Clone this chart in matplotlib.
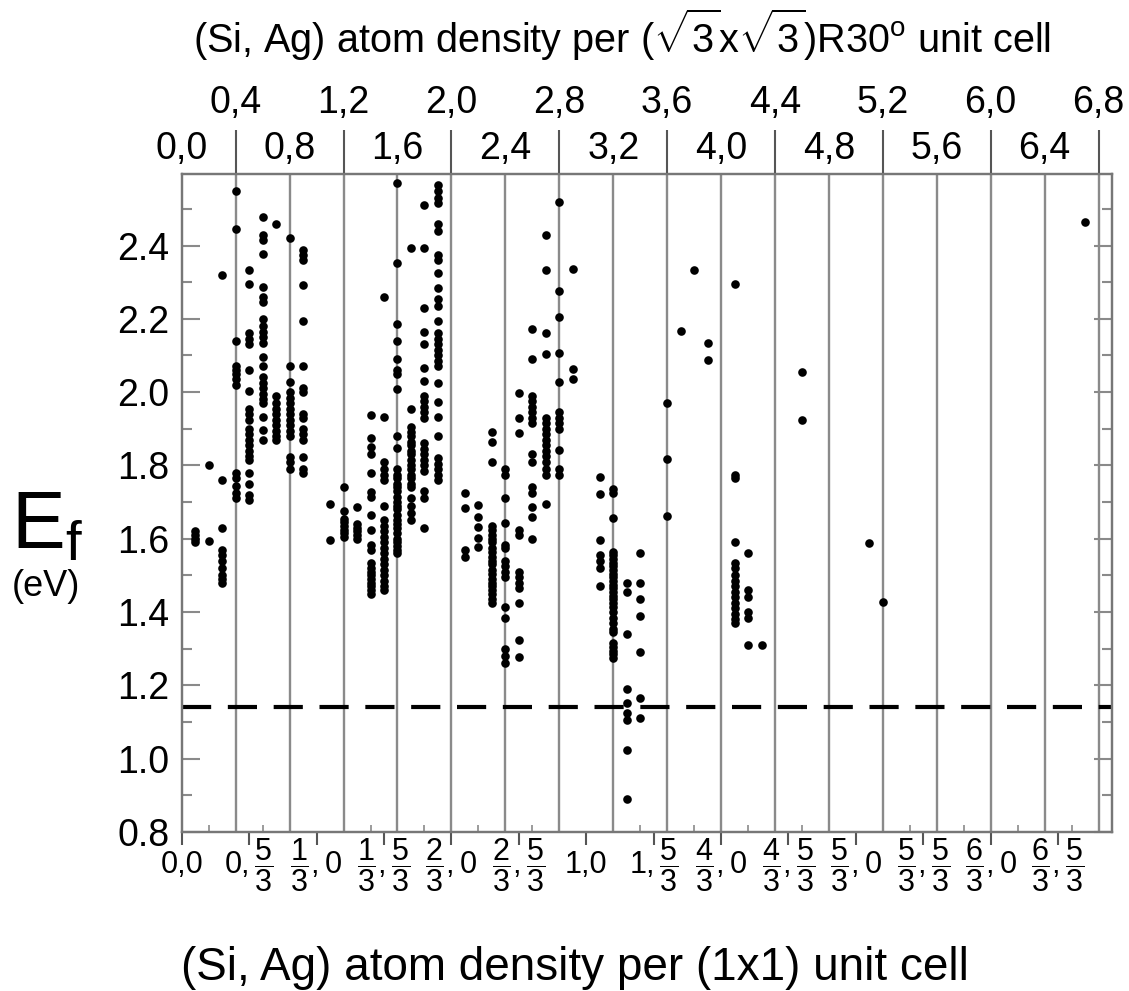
import numpy as np
import matplotlib
matplotlib.use("Agg")
import matplotlib.pyplot as plt
from matplotlib.ticker import MultipleLocator

plt.rcParams['font.family'] = ['Liberation Sans', 'DejaVu Sans']
plt.rcParams['mathtext.fontset'] = 'custom'
plt.rcParams['mathtext.rm'] = 'Liberation Sans'
plt.rcParams['mathtext.it'] = 'Liberation Sans'
plt.rcParams['mathtext.bf'] = 'Liberation Sans'

# Formation energies E_f (eV), one list per density column
# (x = atom density per (sqrt3 x sqrt3)R30 cell)
ef_0_1 = [1.62, 1.61, 1.60, 1.59]
ef_0_2 = [1.80, 1.595]
ef_0_3 = [2.32, 1.76, 1.63, 1.57, 1.555, 1.54, 1.52, 1.50, 1.49, 1.48]
ef_0_4 = [2.55, 2.445, 2.14, 2.07, 2.06, 2.05, 2.035, 2.02, 1.78, 1.765, 1.745, 1.725, 1.71]
ef_0_5 = [2.333, 2.294, 2.16, 2.145, 2.13, 2.06, 2.003, 1.955, 1.94, 1.925, 1.90, 1.885,
          1.87, 1.855, 1.84, 1.825, 1.815, 1.78, 1.75, 1.72, 1.705]
ef_0_6 = [2.479, 2.43, 2.415, 2.377, 2.288, 2.26, 2.245, 2.20, 2.18, 2.165, 2.15, 2.135,
          2.096, 2.07, 2.04, 2.025, 2.01, 1.995, 1.98, 1.97, 1.932, 1.897, 1.87]
ef_0_7 = [2.46, 1.99, 1.97, 1.955, 1.94, 1.925, 1.91, 1.895, 1.88, 1.87]
ef_0_8 = [2.42, 2.07, 2.028, 2.0, 1.985, 1.97, 1.955, 1.94, 1.925, 1.91, 1.895, 1.88,
          1.823, 1.81, 1.79]
ef_0_9 = [2.388, 2.375, 2.36, 2.292, 2.195, 2.07, 2.01, 2.0, 1.94, 1.93, 1.90, 1.885,
          1.87, 1.823, 1.79, 1.78]
ef_1_1 = [1.695, 1.597]
ef_1_2 = [1.74, 1.675, 1.655, 1.645, 1.635, 1.625, 1.615, 1.605]
ef_1_3 = [1.686, 1.64, 1.63, 1.62, 1.61, 1.60]
ef_1_4 = [1.938, 1.875, 1.85, 1.83, 1.78, 1.727, 1.713, 1.665, 1.624, 1.583, 1.57,
          1.535, 1.52, 1.51, 1.50, 1.49, 1.48, 1.47, 1.46, 1.45]
ef_1_5 = [2.26, 1.932, 1.81, 1.79, 1.775, 1.76, 1.69, 1.65, 1.635, 1.62, 1.605, 1.59,
          1.575, 1.56, 1.545, 1.53, 1.515, 1.50, 1.485, 1.47, 1.46]
ef_1_6 = [2.57, 2.352, 2.186, 2.14, 2.09, 2.06, 2.05, 2.008, 1.88, 1.847, 1.79, 1.775,
          1.765, 1.75, 1.74, 1.73, 1.715, 1.70, 1.69, 1.68, 1.665, 1.65, 1.64, 1.63,
          1.615, 1.60, 1.59, 1.58, 1.57, 1.56]
ef_1_7 = [2.393, 1.954, 1.905, 1.89, 1.88, 1.865, 1.855, 1.84, 1.83, 1.815, 1.80, 1.79,
          1.775, 1.765, 1.75, 1.74, 1.71, 1.69, 1.67, 1.65]
ef_1_8 = [2.51, 2.394, 2.23, 2.164, 2.131, 2.066, 2.03, 1.99, 1.975, 1.96, 1.945, 1.93,
          1.86, 1.845, 1.83, 1.815, 1.80, 1.785, 1.73, 1.71, 1.63]
ef_1_9 = [2.565, 2.55, 2.53, 2.515, 2.46, 2.44, 2.375, 2.36, 2.325, 2.283, 2.255, 2.235,
          2.194, 2.16, 2.145, 2.13, 2.115, 2.10, 2.085, 2.07, 2.025, 1.973, 1.932,
          1.88, 1.82, 1.805, 1.79, 1.775, 1.76]
ef_2_1 = [1.725, 1.684, 1.569, 1.55]
ef_2_2 = [1.692, 1.659, 1.632, 1.601, 1.577]
ef_2_3 = [1.892, 1.865, 1.81, 1.635, 1.625, 1.61, 1.60, 1.59, 1.575, 1.565, 1.55, 1.54,
          1.53, 1.515, 1.505, 1.49, 1.48, 1.47, 1.46, 1.45, 1.435, 1.425]
ef_2_4 = [1.79, 1.775, 1.71, 1.644, 1.583, 1.575, 1.54, 1.525, 1.51, 1.495, 1.414,
          1.385, 1.30, 1.28, 1.26]
ef_2_5 = [1.998, 1.93, 1.888, 1.624, 1.61, 1.51, 1.495, 1.48, 1.465, 1.424, 1.323, 1.277]
ef_2_6 = [2.172, 2.09, 1.99, 1.975, 1.96, 1.945, 1.93, 1.915, 1.83, 1.81, 1.74, 1.725,
          1.687, 1.66, 1.60]
ef_2_7 = [2.43, 2.333, 2.16, 2.105, 1.93, 1.915, 1.90, 1.885, 1.87, 1.855, 1.84, 1.825,
          1.81, 1.79, 1.775, 1.695]
ef_2_8 = [2.518, 2.277, 2.206, 2.108, 2.029, 1.945, 1.93, 1.915, 1.90, 1.842, 1.79, 1.775]
ef_2_9 = [2.336, 2.063, 2.036]
ef_3_1 = [1.768, 1.722, 1.597, 1.555, 1.54, 1.52, 1.471]
ef_3_2 = [1.735, 1.725, 1.657, 1.565, 1.555, 1.545, 1.535, 1.525, 1.515, 1.505, 1.495,
          1.485, 1.475, 1.465, 1.455, 1.445, 1.435, 1.425, 1.415, 1.40, 1.385, 1.37,
          1.355, 1.345, 1.315, 1.305, 1.295, 1.285, 1.275]
ef_3_3 = [1.48, 1.455, 1.34, 1.19, 1.151, 1.124, 1.105, 1.024, 0.89]
ef_3_4 = [1.56, 1.48, 1.435, 1.39, 1.29, 1.165, 1.11]
ef_3_6 = [1.97, 1.817, 1.662]
ef_3_7 = [2.168]
ef_3_8 = [2.333]
ef_3_9 = [2.133, 2.088]
ef_4_1 = [2.295, 1.775, 1.765, 1.591, 1.535, 1.52, 1.50, 1.485, 1.47, 1.455, 1.44,
          1.425, 1.41, 1.395, 1.38, 1.37]
ef_4_2 = [1.56, 1.46, 1.44, 1.40, 1.385, 1.31]
ef_4_3 = [1.31]
ef_4_6 = [2.056, 1.924]
ef_5_1 = [1.588]
ef_5_2 = [1.427]
ef_6_7 = [2.464]

columns = [
    (0.1, ef_0_1), (0.2, ef_0_2), (0.3, ef_0_3), (0.4, ef_0_4), (0.5, ef_0_5),
    (0.6, ef_0_6), (0.7, ef_0_7), (0.8, ef_0_8), (0.9, ef_0_9), (1.1, ef_1_1),
    (1.2, ef_1_2), (1.3, ef_1_3), (1.4, ef_1_4), (1.5, ef_1_5), (1.6, ef_1_6),
    (1.7, ef_1_7), (1.8, ef_1_8), (1.9, ef_1_9), (2.1, ef_2_1), (2.2, ef_2_2),
    (2.3, ef_2_3), (2.4, ef_2_4), (2.5, ef_2_5), (2.6, ef_2_6), (2.7, ef_2_7),
    (2.8, ef_2_8), (2.9, ef_2_9), (3.1, ef_3_1), (3.2, ef_3_2), (3.3, ef_3_3),
    (3.4, ef_3_4), (3.6, ef_3_6), (3.7, ef_3_7), (3.8, ef_3_8), (3.9, ef_3_9),
    (4.1, ef_4_1), (4.2, ef_4_2), (4.3, ef_4_3), (4.6, ef_4_6), (5.1, ef_5_1),
    (5.2, ef_5_2), (6.7, ef_6_7),
]

ef_reference = 1.14

# top axis ticks: staggered labels
top_long = [0.4, 1.2, 2.0, 2.8, 3.6, 4.4, 5.2, 6.0, 6.8]
top_long_labels = ["0,4", "1,2", "2,0", "2,8", "3,6", "4,4", "5,2", "6,0", "6,8"]
top_short = [0.0, 0.8, 1.6, 2.4, 3.2, 4.0, 4.8, 5.6, 6.4]
top_short_labels = ["0,0", "0,8", "1,6", "2,4", "3,2", "4,0", "4,8", "5,6", "6,4"]

# bottom axis: (1x1) cell densities
bottom_pos = [0.0, 0.5, 1.0, 1.5, 2.0, 2.5, 3.0, 3.5, 4.0, 4.5, 5.0, 5.5, 6.0, 6.5]
bottom_labels = [
    "0,0", r"$0,\dfrac{5}{3}$", r"$\dfrac{1}{3},0$", r"$\dfrac{1}{3},\dfrac{5}{3}$",
    r"$\dfrac{2}{3},0$", r"$\dfrac{2}{3},\dfrac{5}{3}$", "1,0", r"$1,\dfrac{5}{3}$",
    r"$\dfrac{4}{3},0$", r"$\dfrac{4}{3},\dfrac{5}{3}$", r"$\dfrac{5}{3},0$",
    r"$\dfrac{5}{3},\dfrac{5}{3}$", r"$\dfrac{6}{3},0$", r"$\dfrac{6}{3},\dfrac{5}{3}$",
]

fig = plt.figure(figsize=(11.29, 9.91), dpi=100)
ax = fig.add_axes([0.161, 0.1604, 0.824, 0.664])

gridc = "#8a8a8a"
for xv in top_long + top_short[1:]:
    ax.axvline(xv, color=gridc, lw=1.7, zorder=1)

ax.axhline(ef_reference, color="black", lw=3, ls=(0, (7, 4)), zorder=2)

for xv, vals in columns:
    ax.plot([xv] * len(vals), vals, "o", color="black", ms=6.2, mec="none", zorder=3)

ax.set_xlim(0, 6.9)
ax.set_ylim(0.8, 2.595)

# y axis
ax.yaxis.set_major_locator(MultipleLocator(0.2))
ax.yaxis.set_minor_locator(MultipleLocator(0.1))
ax.yaxis.set_major_formatter(matplotlib.ticker.FormatStrFormatter("%.1f"))
ax.tick_params(axis="y", which="major", direction="in", length=13, width=1.5,
               color=gridc, right=True, labelsize=27, pad=9)
ax.tick_params(axis="y", which="minor", direction="in", length=7, width=1.5,
               color=gridc, right=True)

# bottom x axis
ax.set_xticks(bottom_pos, labels=bottom_labels)
ax.xaxis.set_minor_locator(MultipleLocator(0.2))
ax.tick_params(axis="x", which="major", direction="out", length=9, width=1.5,
               color="#555555", labelsize=22, pad=15, top=False)
ax.tick_params(axis="x", which="minor", direction="in", length=5, width=1.2,
               color=gridc, top=True, bottom=True)
for lbl in ax.get_xticklabels():
    lbl.set_va("center")

for sp in ax.spines.values():
    sp.set_color("#777777")
    sp.set_linewidth(1.6)

# top axis
ax2 = ax.twiny()
ax2.set_xlim(ax.get_xlim())
ax2.set_xticks(top_long, labels=top_long_labels)
ax2.set_xticks(top_short, labels=top_short_labels, minor=True)
ax2.tick_params(which="major", direction="out", length=32, width=1.5,
                color="#555555", labelsize=27, pad=6)
ax2.tick_params(which="minor", length=0, labelsize=27, pad=5)
for sp in ax2.spines.values():
    sp.set_color("#777777")
    sp.set_linewidth(1.6)

fig.text(0.5505, 0.965, r"(Si, Ag) atom density per ($\sqrt{3}$x$\sqrt{3}$)R30$^{\mathrm{o}}$ unit cell",
         ha="center", va="center", fontsize=28.5)
fig.text(0.509, 0.023, "(Si, Ag) atom density per (1x1) unit cell",
         ha="center", va="center", fontsize=33)
fig.text(0.01, 0.468, r"E$_\mathrm{f}$", ha="left", va="center", fontsize=58)
fig.text(0.01, 0.408, "(eV)", ha="left", va="center", fontsize=26)

fig.savefig("out.png", dpi=100)
